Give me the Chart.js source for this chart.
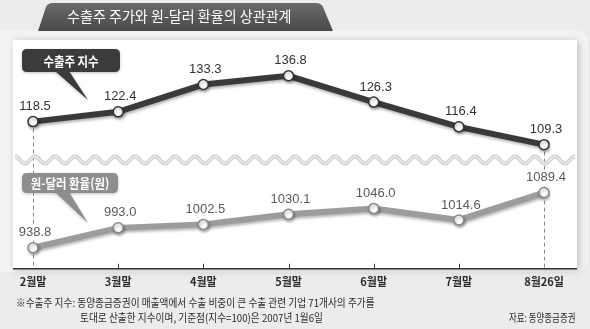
<!DOCTYPE html>
<html>
<head>
<meta charset="utf-8">
<script src="https://cdn.jsdelivr.net/npm/chart.js@4.4.0/dist/chart.umd.min.js"></script>
<style>
  html, body { margin: 0; padding: 0; background: #ececec; }
  #wrap { position: relative; width: 590px; height: 329px; overflow: hidden; }
  #c { position: absolute; left: 0; top: 0; }
  .txt { position: absolute; white-space: nowrap; font-family: "Noto Sans CJK KR", "Noto Sans", sans-serif; }
  .title { left: 67px; top: 6px; height: 20px; line-height: 20px; font-size: 14.5px; color: #fff;
           transform: scaleX(0.97); transform-origin: left center; }
  .tag { text-align: center; color: #fff; font-weight: bold; font-size: 13px; transform: scaleX(0.88); }
  .tag1 { left: 22px; top: 49px; width: 98px; height: 23px; line-height: 23px; }
  .tag2 { left: 22px; top: 173px; width: 96px; height: 20px; line-height: 20px; }
  .note { font-size: 11px; color: #2a2a2a; height: 14px; line-height: 14px; transform: scaleX(0.88); transform-origin: left center; }
  .n1 { left: 16px; top: 295px; }
  .n2 { left: 80px; top: 310px; }
  .src { right: 15px; top: 310px; transform: scaleX(0.77); transform-origin: right center; }
</style>
</head>
<body>
<div id="wrap">
  <canvas id="c" width="590" height="329"></canvas>
  <div class="txt title">수출주 주가와 원-달러 환율의 상관관계</div>
  <div class="txt tag tag1">수출주 지수</div>
  <div class="txt tag tag2">원-달러 환율(원)</div>
  <div class="txt note n1">※수출주 지수: 동양종금증권이 매출액에서 수출 비중이 큰 수출 관련 기업 71개사의 주가를</div>
  <div class="txt note n2">토대로 산출한 지수이며, 기준점(지수=100)은 2007년 1월6일</div>
  <div class="txt note src">자료: 동양종금증권</div>
</div>
<script>
const months = ['2월말', '3월말', '4월말', '5월말', '6월말', '7월말', '8월26일'];
const exportIndex = [118.5, 122.4, 133.3, 136.8, 126.3, 116.4, 109.3];
const wonDollar = [938.8, 993.0, 1002.5, 1030.1, 1046.0, 1014.6, 1089.4];

function roundRect(ctx, x, y, w, h, r) {
  ctx.beginPath();
  ctx.moveTo(x + r, y);
  ctx.lineTo(x + w - r, y);
  ctx.quadraticCurveTo(x + w, y, x + w, y + r);
  ctx.lineTo(x + w, y + h - r);
  ctx.quadraticCurveTo(x + w, y + h, x + w - r, y + h);
  ctx.lineTo(x + r, y + h);
  ctx.quadraticCurveTo(x, y + h, x, y + h - r);
  ctx.lineTo(x, y + r);
  ctx.quadraticCurveTo(x, y, x + r, y);
  ctx.closePath();
}

// speech bubble: rounded box plus a tail pointing down-right
function bubble(ctx, x, y, w, h, tip, color) {
  ctx.save();
  ctx.fillStyle = color;
  ctx.shadowColor = 'rgba(0,0,0,0.25)';
  ctx.shadowBlur = 3;
  ctx.shadowOffsetY = 1;
  roundRect(ctx, x, y, w, h, 5);
  ctx.fill();
  ctx.beginPath();
  ctx.moveTo(x + 33, y + h - 1);
  ctx.lineTo(tip[0], tip[1]);
  ctx.lineTo(x + 47, y + h - 1);
  ctx.closePath();
  ctx.fill();
  ctx.restore();
}

const backdrop = {
  id: 'backdrop',
  beforeDatasetsDraw(chart) {
    const ctx = chart.ctx;
    const x = chart.scales.x;
    const bottom = chart.chartArea.bottom;
    ctx.save();

    // outer rounded backing
    ctx.fillStyle = '#f3f3f3';
    roundRect(ctx, -20, 30, 608, 242, 14);
    ctx.fill();

    // title tab
    const g = ctx.createLinearGradient(0, 2, 0, 30);
    g.addColorStop(0, '#6b6b6b');
    g.addColorStop(1, '#4b4b4b');
    ctx.fillStyle = g;
    ctx.beginPath();
    ctx.moveTo(38, 31);
    ctx.lineTo(46, 7);
    ctx.quadraticCurveTo(48, 3, 53, 3);
    ctx.lineTo(316, 3);
    ctx.quadraticCurveTo(321, 3, 323, 7);
    ctx.lineTo(333, 31);
    ctx.closePath();
    ctx.fill();

    // white panel
    ctx.shadowColor = 'rgba(0,0,0,0.22)';
    ctx.shadowBlur = 7;
    ctx.shadowOffsetX = 2;
    ctx.shadowOffsetY = 1;
    ctx.fillStyle = '#ffffff';
    ctx.fillRect(13, 40, 564, bottom - 40);
    ctx.restore();

    ctx.save();
    // dashed guides at first and last point
    const m0 = chart.getDatasetMeta(0).data;
    ctx.strokeStyle = '#8a8a8a';
    ctx.lineWidth = 1;
    ctx.setLineDash([4, 3]);
    [0, months.length - 1].forEach(i => {
      ctx.beginPath();
      ctx.moveTo(Math.round(m0[i].x) + 0.5, m0[i].y);
      ctx.lineTo(Math.round(m0[i].x) + 0.5, bottom);
      ctx.stroke();
    });
    ctx.setLineDash([]);

    // wavy break between the two series
    const wy = 160;
    ctx.beginPath();
    for (let px = 15; px <= 575; px++) {
      const py = wy - 3.5 * Math.cos((px - 15) / 20 * Math.PI * 2);
      if (px === 15) ctx.moveTo(px, py); else ctx.lineTo(px, py);
    }
    ctx.strokeStyle = '#cdcdcd';
    ctx.lineWidth = 4;
    ctx.stroke();
    ctx.strokeStyle = '#eeeeee';
    ctx.lineWidth = 1.5;
    ctx.stroke();

    // baseline and ticks
    ctx.strokeStyle = '#333';
    ctx.lineWidth = 1.5;
    ctx.beginPath();
    ctx.moveTo(13, bottom);
    ctx.lineTo(577, bottom);
    ctx.stroke();
    ctx.lineWidth = 1;
    for (let i = 1; i < months.length - 1; i++) {
      const px = Math.round(x.getPixelForValue(i)) + 0.5;
      ctx.beginPath();
      ctx.moveTo(px, bottom - 5);
      ctx.lineTo(px, bottom);
      ctx.stroke();
    }

    // value labels sit on a white patch so guides do not run through them
    ctx.font = '13px "Liberation Sans", Arial, sans-serif';
    ctx.fillStyle = '#ffffff';
    chart.data.datasets.forEach((ds, di) => {
      chart.getDatasetMeta(di).data.forEach((pt, i) => {
        const w = ctx.measureText(ds.data[i].toFixed(1)).width;
        ctx.fillRect(pt.x + 2 - w / 2 - 1, pt.y - 22, w + 2, 14);
      });
    });

    bubble(ctx, 22, 49, 98, 23, [88, 100], '#3b3b3b');
    bubble(ctx, 22, 173, 96, 20, [88, 223], '#8e8e8e');
    ctx.restore();
  },
  beforeDatasetDraw(chart) {
    const ctx = chart.ctx;
    ctx.save();
    ctx.shadowColor = 'rgba(0,0,0,0.3)';
    ctx.shadowBlur = 3;
    ctx.shadowOffsetX = 1;
    ctx.shadowOffsetY = 2;
  },
  afterDatasetDraw(chart) {
    chart.ctx.restore();
  },
  afterDatasetsDraw(chart) {
    const ctx = chart.ctx;
    ctx.save();
    ctx.font = '13px "Liberation Sans", Arial, sans-serif';
    ctx.textAlign = 'center';
    ctx.textBaseline = 'middle';
    chart.data.datasets.forEach((ds, di) => {
      ctx.fillStyle = di === 0 ? '#333333' : '#5a5a5a';
      chart.getDatasetMeta(di).data.forEach((pt, i) => {
        ctx.fillText(ds.data[i].toFixed(1), pt.x + 2, pt.y - 15);
      });
    });
    ctx.restore();
  }
};

new Chart(document.getElementById('c'), {
  type: 'line',
  data: {
    labels: months,
    datasets: [
      {
        label: '수출주 지수',
        data: exportIndex,
        yAxisID: 'y',
        borderColor: '#3a3a3a',
        borderWidth: 6,
        pointRadius: 5,
        pointBorderWidth: 1.5,
        pointBackgroundColor: '#ffffff',
        pointBorderColor: '#333333',
        tension: 0
      },
      {
        label: '원-달러 환율(원)',
        data: wonDollar,
        yAxisID: 'y2',
        borderColor: '#9c9c9c',
        borderWidth: 6,
        pointRadius: 5,
        pointBorderWidth: 1.5,
        pointBackgroundColor: '#ffffff',
        pointBorderColor: '#8a8a8a',
        tension: 0
      }
    ]
  },
  options: {
    responsive: false,
    animation: false,
    devicePixelRatio: 1,
    layout: { padding: { left: 33, right: 46, top: 40, bottom: 35 } },
    plugins: { legend: { display: false }, tooltip: { enabled: false } },
    scales: {
      x: {
        grid: { display: false, drawTicks: false },
        border: { display: false },
        ticks: {
          padding: 6,
          autoSkip: false,
          maxRotation: 0,
          color: '#2a2a2a',
          font: { family: '"Noto Sans CJK KR", sans-serif', size: 11, weight: 'bold' }
        }
      },
      y: { display: false, min: 59.7, max: 151.1 },
      y2: { display: false, min: 881.3, max: 1505.6 }
    }
  },
  plugins: [backdrop]
});
</script>
</body>
</html>
